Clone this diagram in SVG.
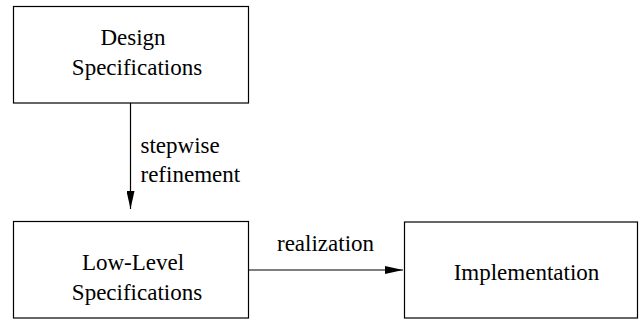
<svg xmlns="http://www.w3.org/2000/svg" width="639" height="320" viewBox="0 0 639 320">
<style>
.box{fill:#fff;stroke:#000;stroke-width:1.2}
.t{font-family:"Liberation Serif",serif;font-size:23px;fill:#000}
.m{text-anchor:middle}
.c{stroke:#000;stroke-width:1.2;fill:none}
</style>
<defs>
<marker id="ah" markerWidth="18" markerHeight="8" refX="18" refY="4" orient="auto" markerUnits="userSpaceOnUse">
<path d="M0,0 L18,4 L0,8 Z" fill="#000"/>
</marker>
</defs>
<rect width="639" height="320" fill="#fff"/>
<g id="design">
<rect class="box" x="13.5" y="6.5" width="235" height="96.5"/>
<text class="t m" x="133" y="45">Design</text>
<text class="t m" x="137" y="75">Specifications</text>
</g>
<g id="lowlevel">
<rect class="box" x="13.5" y="221.5" width="235" height="96.5"/>
<text class="t m" x="133" y="270">Low-Level</text>
<text class="t m" x="137" y="300">Specifications</text>
</g>
<g id="impl">
<rect class="box" x="404.5" y="222" width="233" height="96"/>
<text class="t m" x="526.5" y="280">Implementation</text>
</g>
<g id="connectors">
<line class="c" x1="130.5" y1="103" x2="130.5" y2="209" marker-end="url(#ah)"/>
<text class="t" x="140.5" y="153">stepwise</text>
<text class="t" x="140.5" y="181.5">refinement</text>
<line class="c" x1="248.5" y1="270" x2="403" y2="270" marker-end="url(#ah)"/>
<text class="t" x="277" y="251">realization</text>
</g>
</svg>
